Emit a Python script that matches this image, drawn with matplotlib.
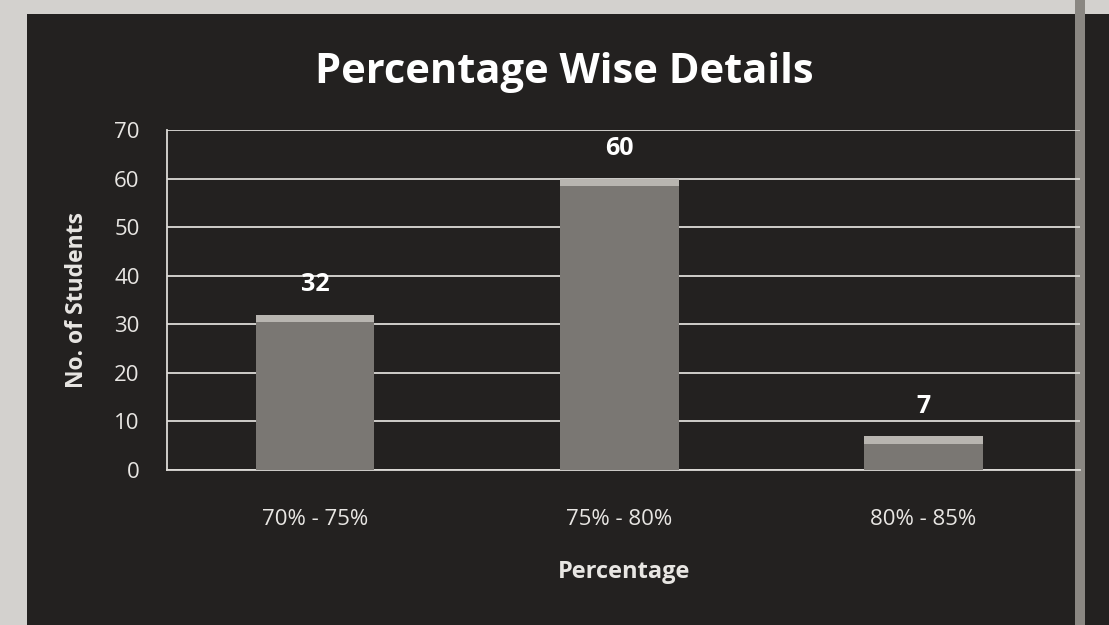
import matplotlib
matplotlib.use('Agg')
import matplotlib.pyplot as plt
from matplotlib.patches import Rectangle

categories = ['70% - 75%', '75% - 80%', '80% - 85%']
students = [32, 60, 7]
yticks = [0, 10, 20, 30, 40, 50, 60, 70]

bg = '#232120'
txt = '#e8e6e3'
plt.rcParams['font.family'] = ['Open Sans', 'DejaVu Sans']

fig = plt.figure(figsize=(11.09, 6.25), dpi=100)
fig.patch.set_facecolor('#d3d1ce')
# dark chart area on the photographed page
fig.patches.append(Rectangle((0.024, 0.0), 0.976, 0.978, transform=fig.transFigure,
                             facecolor=bg, edgecolor='none', zorder=-2))
fig.patches.append(Rectangle((0.969, 0.0), 0.009, 1.0, transform=fig.transFigure,
                             facecolor='#8a8782', edgecolor='none', zorder=-1))

ax = fig.add_axes([0.151, 0.248, 0.823, 0.544])
ax.set_facecolor('none')
ax.set_zorder(2)

x = range(len(categories))
ax.bar(x, students, width=0.39, color='#7a7773', zorder=3)
# lighter bevel on top of each bar
caps = [min(1.6, v) for v in students]
ax.bar(x, caps, bottom=[v - c for v, c in zip(students, caps)], width=0.39,
       color='#b8b5b0', zorder=4)

for i, v in enumerate(students):
    ax.text(i, v + 3.6, str(v), ha='center', va='bottom', color='white',
            fontsize=18, fontweight='bold')

ax.set_ylim(0, 70)
ax.set_xlim(-0.485, 2.515)
ax.set_yticks(yticks)
ax.set_xticks(list(x))
ax.set_xticklabels(categories)
ax.yaxis.grid(True, color='#dddbd7', linewidth=1.3, zorder=1)
ax.set_axisbelow(True)
ax.tick_params(axis='y', colors=txt, labelsize=16, length=0, pad=20)
ax.tick_params(axis='x', colors=txt, labelsize=16, length=0, pad=28)
for s in ['top', 'right']:
    ax.spines[s].set_visible(False)
ax.spines['left'].set_color('#dddbd7')
ax.spines['left'].set_linewidth(1.3)
ax.spines['bottom'].set_color('#dddbd7')
ax.spines['bottom'].set_linewidth(1.3)

ax.set_xlabel('Percentage', color=txt, fontsize=17, fontweight='bold', labelpad=22)
ax.set_ylabel('No. of Students', color=txt, fontsize=16.5, fontweight='bold', labelpad=18)
fig.suptitle('Percentage Wise Details', x=0.509, y=0.884, va='center', color='white',
             fontsize=30, fontweight='bold')

fig.savefig('out.png', dpi=100, facecolor=fig.get_facecolor())
